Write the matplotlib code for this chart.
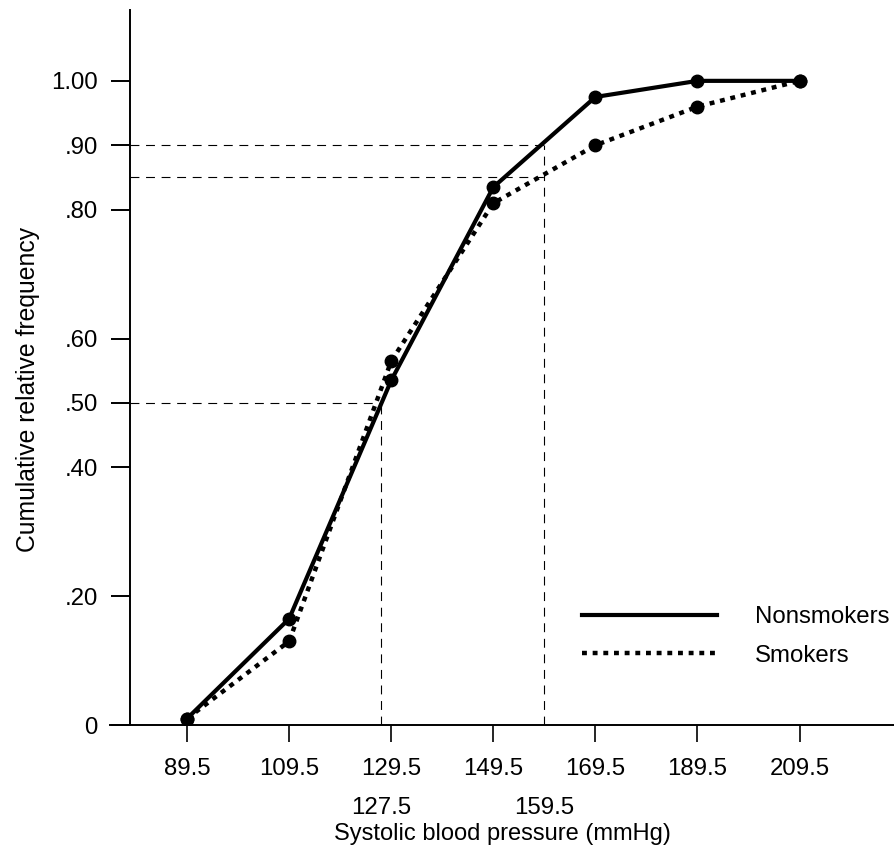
import matplotlib
matplotlib.use("Agg")
import matplotlib.pyplot as plt
from matplotlib.lines import Line2D

plt.rcParams['font.family'] = ['Liberation Sans', 'DejaVu Sans']

# ---- data ----
bp_bounds = [89.5, 109.5, 129.5, 149.5, 169.5, 189.5, 209.5]
nonsmokers = [0.01, 0.165, 0.535, 0.835, 0.975, 1.00, 1.00]
smokers = [0.01, 0.13, 0.565, 0.81, 0.90, 0.96, 1.00]

y_ticks = [0, 0.20, 0.40, 0.50, 0.60, 0.80, 0.90, 1.00]
y_tick_labels = ["0", ".20", ".40", ".50", ".60", ".80", ".90", "1.00"]
x_ticks = bp_bounds
x_tick_labels = ["89.5", "109.5", "129.5", "149.5", "169.5", "189.5", "209.5"]
ref_x = [127.5, 159.5]          # read-off blood pressures
ref_x_labels = ["127.5", "159.5"]
ref_y_for_x = [0.50, 0.90]      # level at which each vertical line stops
ref_h_levels = [0.50, 0.90, 0.85]
ref_h_ends = [127.5, 159.5, 159.5]

x_origin = 78.3  # where the vertical axis sits
FS = 17.3

fig = plt.figure(figsize=(8.94, 8.56), dpi=100)
ax = fig.add_axes([110/894, 131/856, 784/894, 715/856])
ax.set_xlim(74.4, 228)
ax.set_ylim(0, 1.11)

for s in ['top', 'right']:
    ax.spines[s].set_visible(False)
ax.spines['left'].set_position(('data', x_origin))
ax.spines['left'].set_linewidth(1.4)
ax.spines['bottom'].set_linewidth(1.4)

# reference dashed lines
dash = dict(color='black', lw=0.8, ls=(0, (8, 6)))
for xv, yv in zip(ref_x, ref_y_for_x):
    ax.plot([xv, xv], [0, yv], **dash)
for yv, xe in zip(ref_h_levels, ref_h_ends):
    ax.plot([x_origin, xe], [yv, yv], **dash)

# data lines
ax.plot(bp_bounds, smokers, color='black', lw=3.2, ls=(0, (1.1, 1.3)),
        marker='o', ms=9, zorder=3)
ax.plot(bp_bounds, nonsmokers, color='black', lw=3.0, ls='-',
        marker='o', ms=9, zorder=4)

ax.set_yticks(y_ticks)
ax.set_yticklabels(y_tick_labels)
ax.set_xticks(x_ticks)
ax.set_xticklabels(x_tick_labels)
ax.set_xticks(ref_x, minor=True)
ax.set_xticklabels(ref_x_labels, minor=True)

ax.tick_params(axis='y', which='major', length=14, width=1.4, pad=9,
               labelsize=FS, direction='out')
ax.tick_params(axis='x', which='major', length=12, width=1.2, pad=12,
               labelsize=FS, direction='out')
ax.tick_params(axis='x', which='minor', length=0, pad=52, labelsize=FS)

ax.set_xlabel("Systolic blood pressure (mmHg)", fontsize=17, labelpad=3)
ax.set_ylabel("Cumulative relative frequency", fontsize=17.8, labelpad=8,
              y=0.47)

handles = [Line2D([], [], color='black', lw=3.0, ls='-'),
           Line2D([], [], color='black', lw=3.2, ls=(0, (1.1, 1.3)))]
ax.legend(handles, ["Nonsmokers", "Smokers"], frameon=False, fontsize=FS,
          handlelength=5.62, handletextpad=1.58, labelspacing=0.68,
          loc='upper left', bbox_to_anchor=(0.602, 0.166),
          borderaxespad=0, borderpad=0)

fig.savefig("out.png", dpi=100)
